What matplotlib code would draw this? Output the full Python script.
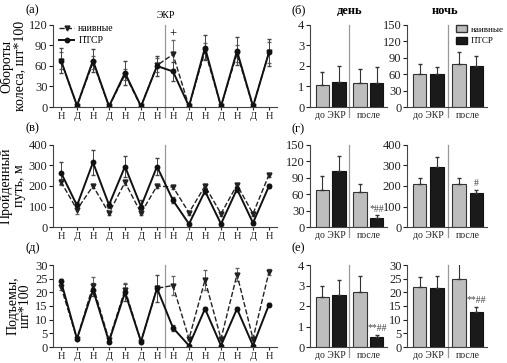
import matplotlib
matplotlib.use('Agg')
import matplotlib.pyplot as plt
from matplotlib.lines import Line2D
from matplotlib.patches import Patch

plt.rcParams['font.family'] = ['Liberation Serif', 'DejaVu Serif']
plt.rcParams['font.size'] = 8

# ---- data: left panels (ночь/день по дням) ----
days = ['Н', 'Д', 'Н', 'Д', 'Н', 'Д', 'Н', 'Н', 'Д', 'Н', 'Д', 'Н', 'Д', 'Н']

turns_ptsr = [68, 2, 68, 1, 50, 1, 60, 52, 1, 87, 1, 82, 1, 80]
turns_ptsr_err = [18, 1, 17, 1, 18, 1, 14, 14, 1, 18, 1, 20, 1, 20]
turns_naive = [68, 2, 65, 1, 47, 1, 61, 77, 1, 82, 1, 78, 1, 80]
turns_naive_err = [12, 1, 10, 1, 8, 1, 10, 21, 1, 12, 1, 12, 1, 15]

dist_ptsr = [265, 105, 315, 108, 295, 100, 295, 130, 15, 175, 15, 185, 20, 200]
dist_ptsr_err = [53, 15, 60, 15, 50, 30, 42, 15, 5, 15, 5, 12, 8, 12]
dist_naive = [220, 85, 200, 68, 218, 68, 200, 195, 70, 200, 65, 205, 65, 255]
dist_naive_err = [15, 20, 10, 10, 12, 8, 8, 10, 10, 10, 10, 12, 10, 10]

rear_ptsr = [24, 3, 21, 2, 20, 2, 21.5, 7, 0.5, 14, 0.5, 14, 0.5, 15.5]
rear_ptsr_err = [1, 0.5, 2.5, 0.5, 3, 0.5, 5, 1, 0.3, 0.5, 0.3, 0.5, 0.3, 0.5]
rear_naive = [22, 3, 22.5, 2.5, 21, 2, 21.5, 22.5, 3, 24.5, 3, 26.5, 3, 27.5]
rear_naive_err = [1, 0.5, 3, 0.5, 2.5, 0.5, 1, 3.5, 0.5, 3.5, 0.5, 2.5, 0.5, 1]

# ---- data: right panels (до ЭКР / после), order: naive, ptsr ----
groups = ['до ЭКР', 'после']

turns_day_naive = [1.05, 1.15]
turns_day_naive_err = [0.68, 0.7]
turns_day_ptsr = [1.2, 1.15]
turns_day_ptsr_err = [0.82, 0.82]
turns_night_naive = [60, 79]
turns_night_naive_err = [18, 21]
turns_night_ptsr = [60, 75]
turns_night_ptsr_err = [13, 18]

dist_day_naive = [68, 64]
dist_day_naive_err = [25, 14]
dist_day_ptsr = [102, 17]
dist_day_ptsr_err = [28, 5]
dist_night_naive = [210, 210]
dist_night_naive_err = [28, 28]
dist_night_ptsr = [292, 168]
dist_night_ptsr_err = [48, 12]

rear_day_naive = [2.42, 2.67]
rear_day_naive_err = [0.56, 0.78]
rear_day_ptsr = [2.55, 0.48]
rear_day_ptsr_err = [0.7, 0.12]
rear_night_naive = [22, 25]
rear_night_naive_err = [3.5, 6]
rear_night_ptsr = [21.7, 12.8]
rear_night_ptsr_err = [4.2, 1.7]

W, H = 507, 363
fig = plt.figure(figsize=(W / 100, H / 100), dpi=100)


def box(x0, y0, x1, y1):
    return [x0 / W, 1 - y1 / H, (x1 - x0) / W, (y1 - y0) / H]


rows = [(25, 107), (145, 227), (265, 347)]
grey_line = '#999999'


def style(ax):
    for s in ['top', 'right']:
        ax.spines[s].set_visible(False)
    ax.spines['left'].set_color('#444444')
    ax.spines['bottom'].set_color('#444444')
    ax.tick_params(direction='out', length=3, width=0.8, colors='#222222', labelsize=9, pad=1)


def line_panel(y0, y1, ptsr, ptsr_err, naive, naive_err, ylim, yticks, ylabel):
    ax = fig.add_axes(box(53, y0, 277, y1))
    x = list(range(len(days)))
    ax.errorbar(x, naive, yerr=naive_err, color='#222222', ls='--', lw=1.0,
                marker='v', ms=3.5, capsize=1.5, elinewidth=0.7, ecolor='#666666')
    ax.errorbar(x, ptsr, yerr=ptsr_err, color='#111111', ls='-', lw=1.4,
                marker='o', ms=3.2, capsize=1.5, elinewidth=0.7, ecolor='#444444')
    ax.axvline(6.5, ymin=-0.12, ymax=1.0, color=grey_line, lw=0.9, clip_on=False)
    ax.set_xlim(-0.5, 13.5)
    ax.set_ylim(*ylim)
    ax.set_yticks(yticks)
    ax.set_xticks(x)
    ax.set_xticklabels(days)
    style(ax)
    ax.tick_params(axis='x', labelsize=7.5, length=2.5)
    ax.set_ylabel(ylabel, fontsize=10, linespacing=1.0, labelpad=2)
    return ax


def bar_panel(x0, x1, y0, y1, naive, naive_err, ptsr, ptsr_err, ylim, yticks):
    ax = fig.add_axes(box(x0, y0, x1, y1))
    pos_n = [0, 2.25]
    pos_p = [1, 3.25]
    ax.bar(pos_n, naive, width=0.78, color='#bdbdbd', edgecolor='#333333', lw=0.8,
           yerr=[[0, 0], naive_err], capsize=1.5, error_kw=dict(elinewidth=0.8, ecolor='#333333'))
    ax.bar(pos_p, ptsr, width=0.78, color='#1a1a1a', edgecolor='#111111', lw=0.8,
           yerr=[[0, 0], ptsr_err], capsize=1.5, error_kw=dict(elinewidth=0.8, ecolor='#333333'))
    ax.axvline(1.62, ymin=-0.12, ymax=1.0, color=grey_line, lw=0.9, clip_on=False)
    ax.set_xlim(-0.72, 3.85)
    ax.set_ylim(*ylim)
    ax.set_yticks(yticks)
    ax.set_xticks([0.5, 2.75])
    ax.set_xticklabels(groups)
    style(ax)
    ax.tick_params(axis='x', length=0, labelsize=7, pad=3)
    return ax


# left column
axa = line_panel(*rows[0], turns_ptsr, turns_ptsr_err, turns_naive, turns_naive_err,
                 (0, 120), [0, 30, 60, 90, 120], 'Обороты\nколеса, шт*100')
axa.text(7, 106, '+', ha='center', va='center', fontsize=9)
axa.legend(handles=[Line2D([], [], color='#222222', ls='--', lw=1.0, marker='v', ms=3.5),
                    Line2D([], [], color='#111111', ls='-', lw=1.4, marker='o', ms=3.2)],
           labels=['наивные', 'ПТСР'], loc='upper left', bbox_to_anchor=(0.0, 1.08),
           frameon=False, fontsize=7, handlelength=1.6, handletextpad=0.4,
           borderpad=0.1, labelspacing=0.3)
fig.text(166 / W, 1 - 16 / H, 'ЭКР', ha='center', va='center', fontsize=7)

line_panel(*rows[1], dist_ptsr, dist_ptsr_err, dist_naive, dist_naive_err,
           (0, 400), [0, 100, 200, 300, 400], 'Пройденный\nпуть, м')
line_panel(*rows[2], rear_ptsr, rear_ptsr_err, rear_naive, rear_naive_err,
           (0, 30), [0, 5, 10, 15, 20, 25, 30], 'Подъемы,\nшт*100')

# right columns
bar_panel(310, 387, *rows[0], turns_day_naive, turns_day_naive_err,
          turns_day_ptsr, turns_day_ptsr_err, (0, 4), [0, 1, 2, 3, 4])
bar_panel(407, 487, *rows[0], turns_night_naive, turns_night_naive_err,
          turns_night_ptsr, turns_night_ptsr_err, (0, 150), [0, 30, 60, 90, 120, 150])

axg1 = bar_panel(310, 387, *rows[1], dist_day_naive, dist_day_naive_err,
                 dist_day_ptsr, dist_day_ptsr_err, (0, 150), [0, 30, 60, 90, 120, 150])
axg1.text(3.25, 24, '*##', ha='center', va='bottom', fontsize=7, color='#444444')
axg2 = bar_panel(407, 487, *rows[1], dist_night_naive, dist_night_naive_err,
                 dist_night_ptsr, dist_night_ptsr_err, (0, 400), [0, 100, 200, 300, 400])
axg2.text(3.25, 190, '#', ha='center', va='bottom', fontsize=7, color='#444444')

axe1 = bar_panel(310, 387, *rows[2], rear_day_naive, rear_day_naive_err,
                 rear_day_ptsr, rear_day_ptsr_err, (0, 4), [0, 1, 2, 3, 4])
axe1.text(3.25, 0.66, '**##', ha='center', va='bottom', fontsize=7, color='#444444')
axe2 = bar_panel(407, 487, *rows[2], rear_night_naive, rear_night_naive_err,
                 rear_night_ptsr, rear_night_ptsr_err, (0, 30), [0, 5, 10, 15, 20, 25, 30])
axe2.text(3.25, 15.2, '**##', ha='center', va='bottom', fontsize=7, color='#444444')

fig.legend(handles=[Patch(facecolor='#bdbdbd', edgecolor='#333333'),
                    Patch(facecolor='#1a1a1a', edgecolor='#111111')],
           labels=['наивные', 'ПТСР'], loc='upper left',
           bbox_to_anchor=(451 / W, 1 - 20 / H), frameon=False, fontsize=6.5,
           handlelength=1.2, handleheight=0.8, handletextpad=0.4,
           borderpad=0.1, labelspacing=0.3)

# panel labels and titles
for lab, x, y in [('(а)', 25, 10), ('(в)', 25, 128), ('(д)', 25, 248),
                  ('(б)', 292, 10), ('(г)', 292, 129), ('(е)', 292, 248)]:
    fig.text(x / W, 1 - y / H, lab, ha='left', va='center', fontsize=9)
fig.text(350 / W, 1 - 11 / H, 'день', ha='center', va='center', fontsize=9, fontweight='bold')
fig.text(445 / W, 1 - 11 / H, 'ночь', ha='center', va='center', fontsize=9, fontweight='bold')

fig.savefig('out.png', dpi=100)
